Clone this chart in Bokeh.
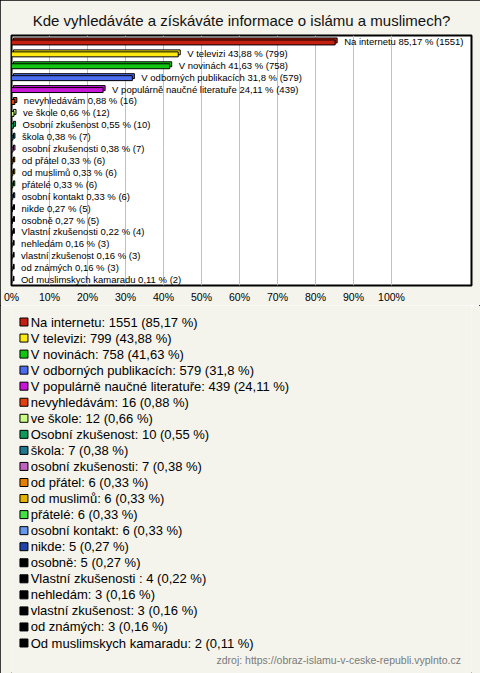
from bokeh.plotting import figure
from bokeh.models import Range1d, FixedTicker, PrintfTickFormatter, ColumnDataSource
from bokeh.layouts import column
from bokeh.core.properties import value
from bokeh.embed import file_html
from bokeh.resources import INLINE

title_text = "Kde vyhledáváte a získáváte informace o islámu a muslimech?"
source_note = "zdroj: https://obraz-islamu-v-ceske-republi.vyplnto.cz"

categories = [
    "Na internetu", "V televizi", "V novinách", "V odborných publikacích",
    "V populárně naučné literatuře", "nevyhledávám", "ve škole",
    "Osobní zkušenost", "škola", "osobní zkušenosti", "od přátel",
    "od muslimů", "přátelé", "osobní kontakt", "nikde", "osobně",
    "Vlastní zkušenosti ", "nehledám", "vlastní zkušenost", "od známých",
    "Od muslimskych kamaradu",
]
counts = [1551, 799, 758, 579, 439, 16, 12, 10, 7, 7, 6, 6, 6, 6, 5, 5, 4, 3, 3, 3, 2]
percents = [85.17, 43.88, 41.63, 31.8, 24.11, 0.88, 0.66, 0.55, 0.38, 0.38,
            0.33, 0.33, 0.33, 0.33, 0.27, 0.27, 0.22, 0.16, 0.16, 0.16, 0.11]
colors = [
    "#c51f0f", "#fde910", "#11c611", "#4a6cf0", "#c815d8", "#e2400f",
    "#ccff88", "#0e9a5a", "#1e7890", "#c060c0", "#e67e00", "#e6b400",
    "#44e044", "#6699ee", "#2244aa", "#000000", "#000000", "#000000",
    "#000000", "#000000", "#000000",
]
x_ticks = [0, 10, 20, 30, 40, 50, 60, 70, 80, 90, 100]

FONT = "Liberation Sans"
BG = "#f4f4ec"
W = 480
HA = 305
HB = 368

n = len(categories)
idx = list(range(n))
pct_txt = [str(v).replace(".", ",") for v in percents]
bar_labels = [f"{c} {p} % ({k})" for c, p, k in zip(categories, pct_txt, counts)]
legend_labels = [f"{c}: {k} ({p} %)" for c, p, k in zip(categories, pct_txt, counts)]

# ---------- bar chart ----------
b_left, b_right, b_top, b_bottom = 11, 9, 35, 18
frame_w = W - b_left - b_right
px_per_pct = 3.8
x_max = frame_w / px_per_pct
row_px = (HA - b_top - b_bottom) / n
dx = 2.0 / px_per_pct
dy = 1.0 / row_px
bar_h = 5.0 / row_px

src = ColumnDataSource(dict(
    y=idx,
    y_front=[i + dy for i in idx],
    y_back=[i - dy for i in idx],
    right=percents,
    back_left=[dx] * n,
    back_right=[p + dx for p in percents],
    color=colors,
    label=bar_labels,
))

pA = figure(width=W, height=HA, x_range=Range1d(0, x_max),
            y_range=Range1d(n - 0.5, -0.5),
            output_backend="svg", toolbar_location=None,
            y_axis_location=None,
            min_border_left=b_left, min_border_right=b_right,
            min_border_top=b_top, min_border_bottom=b_bottom,
            background_fill_color="white", border_fill_color=BG,
            outline_line_color="black", outline_line_width=2,
            title=title_text)
pA.title.align = "center"
pA.title.text_font = FONT
pA.title.text_font_size = "15px"
pA.title.text_font_style = "normal"
pA.title.text_color = "#111111"
pA.title.standoff = 13
pA.title.offset = -3

pA.hbar(y="y_back", left="back_left", right="back_right", height=bar_h,
        fill_color="color", line_color="black", line_width=1, source=src)
pA.hbar(y="y_front", left=0, right="right", height=bar_h,
        fill_color="color", line_color="black", line_width=1, source=src)
pA.text(x="right", y="y", text="label", x_offset=9, source=src,
        text_baseline="middle", text_align="left",
        text_font=value(FONT), text_font_size="9.5px", text_color="black")

pA.xaxis.ticker = FixedTicker(ticks=x_ticks)
pA.xaxis.formatter = PrintfTickFormatter(format="%d%%")
pA.xaxis.major_tick_out = 0
pA.xaxis.major_tick_in = 0
pA.xaxis.minor_tick_out = 0
pA.xaxis.minor_tick_in = 0
pA.xaxis.axis_line_color = None
pA.xaxis.major_label_standoff = 5
pA.xaxis.major_label_text_font = FONT
pA.xaxis.major_label_text_font_size = "10.5px"
pA.xaxis.major_label_text_color = "black"
pA.xgrid.ticker = FixedTicker(ticks=x_ticks[1:])
pA.xgrid.grid_line_color = "#c0c0c0"
pA.xgrid.grid_line_width = 1
pA.ygrid.visible = False

# ---------- legend + source ----------
leg_pitch = 16.05
leg_first = 16.5
y_top = -leg_first / leg_pitch
y_bottom = (HB - leg_first) / leg_pitch

lsrc = ColumnDataSource(dict(y=idx, color=colors, label=legend_labels,
                             sx=[13] * n, tx=[20] * n))

pB = figure(width=W, height=HB, x_range=Range1d(0, W),
            y_range=Range1d(y_bottom, y_top),
            output_backend="svg", toolbar_location=None,
            x_axis_location=None, y_axis_location=None,
            min_border_left=0, min_border_right=0,
            min_border_top=0, min_border_bottom=0,
            background_fill_color=BG, border_fill_color=BG,
            outline_line_color=None)
pB.xgrid.visible = False
pB.ygrid.visible = False

pB.scatter(x="sx", y="y", marker="square", size=8, fill_color="color",
           line_color="black", line_width=1, source=lsrc)
pB.text(x="tx", y="y", text="label", source=lsrc,
        text_baseline="middle", text_align="left",
        text_font=value(FONT), text_font_size="13px", text_color="black")

src_y = (354.0 - leg_first) / leg_pitch
pB.text(x=[469], y=[src_y], text=[source_note],
        text_baseline="middle", text_align="right",
        text_font=value(FONT), text_font_size="10.5px", text_color="#7a7a7a")

layout = column(pA, pB, spacing=0,
                styles={"outline": "1px solid black", "outline-offset": "-1px"})

with open("out.html", "w") as f:
    f.write(file_html(layout, INLINE))
